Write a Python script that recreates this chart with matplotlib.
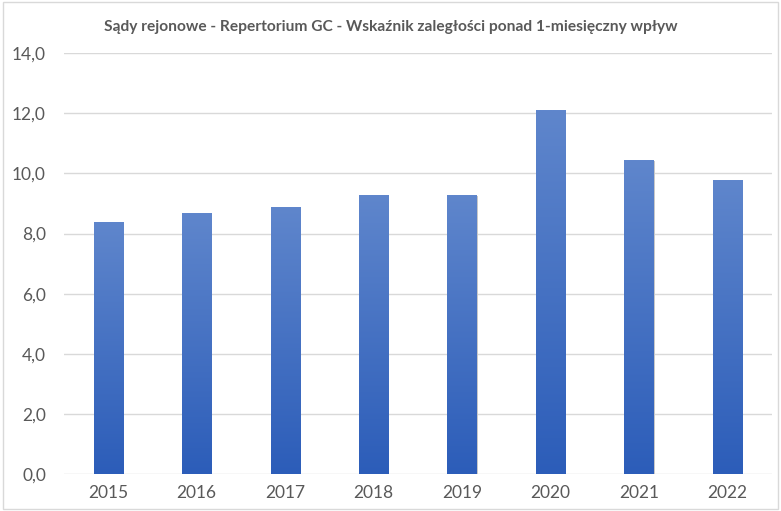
import matplotlib.pyplot as plt
import numpy as np
from matplotlib.colors import LinearSegmentedColormap
from matplotlib.patches import Rectangle

plt.rcParams['font.family'] = ['Lato', 'DejaVu Sans']

years = ['2015', '2016', '2017', '2018', '2019', '2020', '2021', '2022']
values = [8.38, 8.68, 8.88, 9.28, 9.28, 12.1, 10.44, 9.78]
yticks = [0, 2, 4, 6, 8, 10, 12, 14]

fig = plt.figure(figsize=(7.81, 5.11), dpi=100)
ax = fig.add_axes([0.082, 0.0724, 0.906, 0.8235])

x = np.arange(len(years))
bars = ax.bar(x, values, width=0.33, color='none', zorder=3)

cmap = LinearSegmentedColormap.from_list('grad', ['#2c5db9', '#5f86cc'])
grad = np.linspace(0, 1, 256).reshape(-1, 1)
for b in bars:
    x0, w, h = b.get_x(), b.get_width(), b.get_height()
    # faint shadow
    ax.add_patch(Rectangle((x0 + 0.012, 0), w, h - 0.03, color='#c8c8c8', zorder=2, lw=0))
    im = ax.imshow(grad, cmap=cmap, origin='lower', aspect='auto',
                   extent=(x0, x0 + w, 0, h), zorder=3)
    im.set_clip_path(b)

ax.set_xlim(-0.5, len(years) - 0.5)
ax.set_ylim(0, 14)
ax.set_yticks(yticks)
ax.set_yticklabels([f'{v:.1f}'.replace('.', ',') for v in yticks])
ax.set_xticks(x)
ax.set_xticklabels(years)
ax.tick_params(length=0, labelsize=12.5, labelcolor='#595959', pad=8)
ax.tick_params(axis='y', pad=13)
ax.grid(axis='y', color='#d9d9d9', lw=1, zorder=0)
for s in ax.spines.values():
    s.set_visible(False)

fig.text(0.5, 0.947, 'Sądy rejonowe - Repertorium GC - Wskaźnik zaległości ponad 1-miesięczny wpływ',
         ha='center', va='center', fontsize=11.2, fontweight='bold', color='#595959')

fig.patches.append(Rectangle((0.004, 0.004), 0.992, 0.992, transform=fig.transFigure,
                             fill=False, edgecolor='#d9d9d9', lw=1))

fig.savefig('out.png', dpi=100)
